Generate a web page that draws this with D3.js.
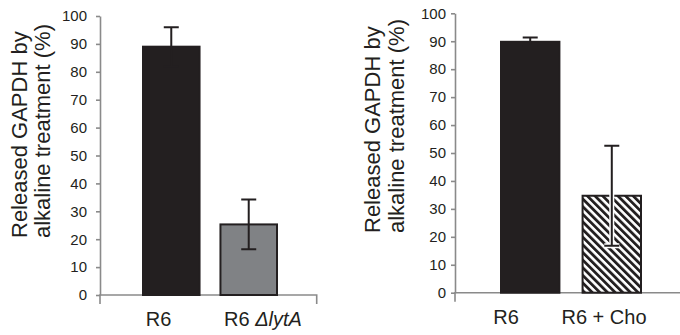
<!DOCTYPE html>
<html>
<head>
<meta charset="utf-8">
<script src="https://cdn.jsdelivr.net/npm/d3@7"></script>
<style>
  body { margin: 0; background: #fff; }
  text { font-family: "Liberation Sans", Arial, sans-serif; fill: #231f20; }
</style>
</head>
<body>
<script>
// data
var leftCategories = ["R6", "R6 ΔlytA"];
var leftValues = [89, 25.3];
var leftErrors = [7, 8.9];

var rightCategories = ["R6", "R6 + Cho"];
var rightValues = [89.8, 34.7];
var rightErrors = [1.5, 17.9];

var yTicks = [0, 10, 20, 30, 40, 50, 60, 70, 80, 90, 100];
var yTitle = ["Released GAPDH by", "alkaline treatment (%)"];

var width = 680, height = 335;
var axisColor = "#8a8a8a", ink = "#231f20";

var svg = d3.select("body").append("svg")
  .attr("width", width)
  .attr("height", height);

// diagonal hatch for the choline bar
var defs = svg.append("defs");
defs.append("pattern")
  .attr("id", "hatch")
  .attr("patternUnits", "userSpaceOnUse")
  .attr("width", 5.4)
  .attr("height", 5.4)
  .attr("patternTransform", "rotate(-45)")
  .call(function(p) {
    p.append("rect").attr("width", 5.4).attr("height", 5.4).attr("fill", "#fff");
    p.append("rect").attr("width", 2.8).attr("height", 5.4).attr("fill", ink);
  });

function drawPanel(cfg) {
  var g = svg.append("g");

  var y = d3.scaleLinear().domain([0, 100]).range([cfg.yBottom, cfg.yTop]);

  var xBar = d3.scaleBand().domain(cfg.categories)
    .range(cfg.barRange).paddingInner(cfg.paddingInner).paddingOuter(0);

  var xLabel = d3.scalePoint().domain(cfg.categories).range(cfg.labelRange);

  // y axis
  var yAxis = g.append("g")
    .attr("transform", "translate(" + cfg.axisX + ",0)")
    .call(d3.axisLeft(y).tickValues(yTicks).tickSizeInner(4).tickSizeOuter(0).tickPadding(cfg.tickPad));
  yAxis.select(".domain").attr("stroke", axisColor).attr("stroke-width", 1.6);
  yAxis.selectAll(".tick line").attr("stroke", axisColor).attr("stroke-width", 1.6);
  yAxis.selectAll(".tick text")
    .style("font-size", "15px")
    .style("fill", ink);

  // x axis line with end ticks
  g.append("path")
    .attr("d", "M" + cfg.axisX + "," + (cfg.yBottom + 9) + "V" + cfg.yBottom + "H" + cfg.axisEnd +
      (cfg.endTick ? "V" + (cfg.yBottom + 9) : ""))
    .attr("fill", "none")
    .attr("stroke", axisColor)
    .attr("stroke-width", 1.6);

  // bars
  g.selectAll("rect.bar").data(cfg.values).enter().append("rect")
    .attr("class", "bar")
    .attr("x", function(d, i) { return xBar(cfg.categories[i]); })
    .attr("width", xBar.bandwidth())
    .attr("y", function(d) { return y(d); })
    .attr("height", function(d) { return cfg.yBottom - y(d); })
    .attr("fill", function(d, i) { return cfg.fills[i]; })
    .attr("stroke", ink)
    .attr("stroke-width", 2);

  // error bars
  var cap = 7.5;
  cfg.values.forEach(function(v, i) {
    var cx = xBar(cfg.categories[i]) + xBar.bandwidth() / 2;
    var y0 = y(v - cfg.errors[i]), y1 = y(v + cfg.errors[i]);
    var d = "M" + cx + "," + y0 + "V" + y1 +
      "M" + (cx - cap) + "," + y1 + "H" + (cx + cap) +
      "M" + (cx - cap) + "," + y0 + "H" + (cx + cap);
    if (cfg.halo[i]) {
      g.append("path").attr("d", d).attr("fill", "none")
        .attr("stroke", "#fff").attr("stroke-width", 5);
    }
    g.append("path").attr("d", d).attr("fill", "none")
      .attr("stroke", ink).attr("stroke-width", 2);
  });

  // category labels
  var labels = g.selectAll("text.cat").data(cfg.categories).enter().append("text")
    .attr("class", "cat")
    .attr("x", function(d) { return xLabel(d); })
    .attr("y", cfg.yBottom + 31)
    .attr("text-anchor", "middle")
    .style("font-size", "20px");
  labels.each(function(d) {
    var t = d3.select(this);
    var k = d.indexOf("Δ");
    if (k < 0) { t.text(d); return; }
    t.append("tspan").text(d.slice(0, k));
    t.append("tspan").style("font-style", "italic").text(d.slice(k));
  });

  // y title, two lines, both starting from the same low point
  yTitle.forEach(function(line, i) {
    g.append("text")
      .attr("transform", "translate(" + cfg.titleX[i] + "," + cfg.titleY + ") rotate(-90)")
      .attr("text-anchor", "start")
      .style("font-size", "22px")
      .text(line);
  });
}

drawPanel({
  categories: leftCategories,
  values: leftValues,
  errors: leftErrors,
  fills: [ink, "#808285"],
  halo: [false, false],
  axisX: 100, axisEnd: 316.7, endTick: true,
  yTop: 16, yBottom: 295,
  barRange: [143, 277], paddingInner: 0.27,
  labelRange: [158.5, 263],
  tickPad: 9,
  titleX: [26.5, 49.5], titleY: 238
});

drawPanel({
  categories: rightCategories,
  values: rightValues,
  errors: rightErrors,
  fills: [ink, "url(#hatch)"],
  halo: [false, true],
  axisX: 455, axisEnd: 680, endTick: false,
  yTop: 13.3, yBottom: 292.7,
  barRange: [501, 641], paddingInner: 0.284,
  labelRange: [506, 604],
  tickPad: 5,
  titleX: [380, 404], titleY: 233
});
</script>
</body>
</html>
